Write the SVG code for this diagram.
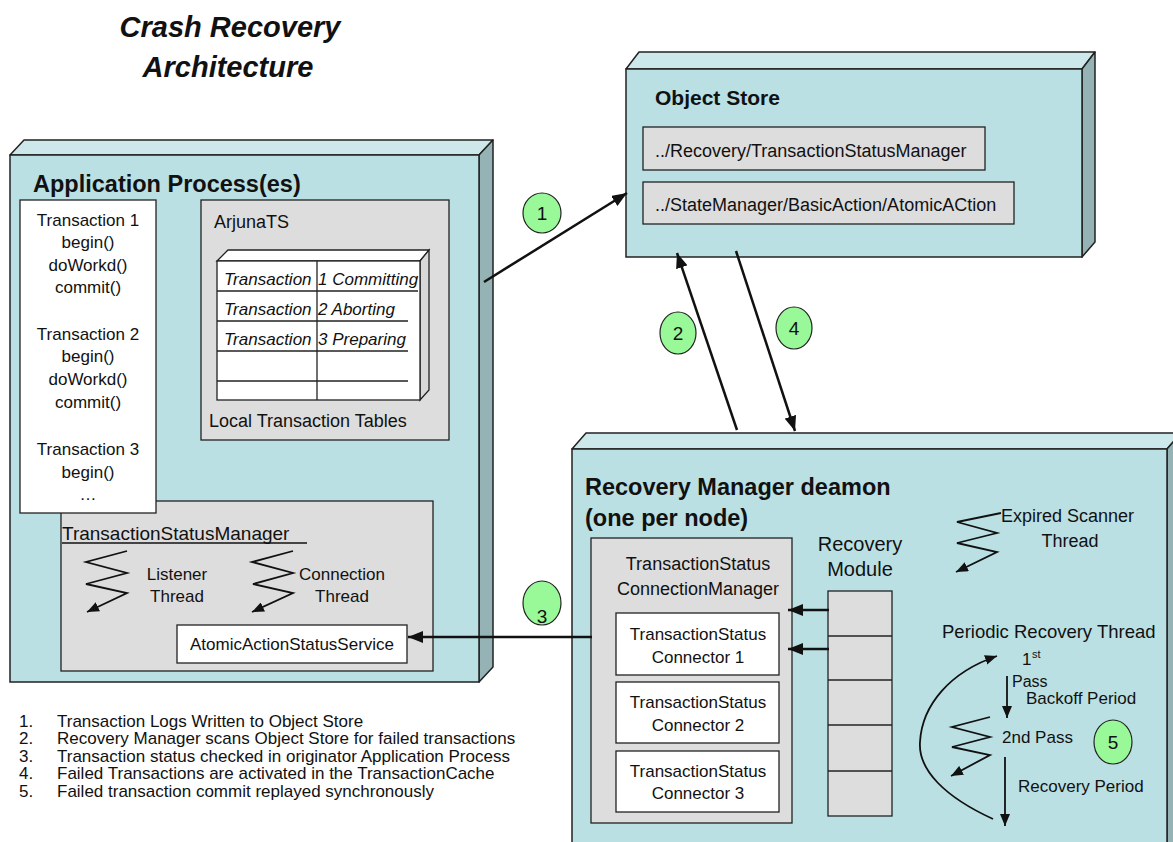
<svg xmlns="http://www.w3.org/2000/svg" width="1173" height="842" viewBox="0 0 1173 842">
<defs>
<style>
text { font-family: "Liberation Sans", Arial, sans-serif; fill:#111; }
.front { fill:#bae0e3; stroke:#222; stroke-width:1.5; }
.top { fill:#cde8ea; stroke:#222; stroke-width:1.5; stroke-linejoin:round; }
.side { fill:#95b3b5; stroke:#222; stroke-width:1.5; stroke-linejoin:round; }
.gray { fill:#dddddd; stroke:#222; stroke-width:1.3; }
.white { fill:#ffffff; stroke:#222; stroke-width:1.3; }
.ln { stroke:#222; stroke-width:1.3; fill:none; }
.h { font-weight:bold; font-size:23.5px; }
.t17 { font-size:17px; }
.t18 { font-size:18px; }
.it { font-style:italic; font-size:17px; }
.c { text-anchor:middle; }
.circ { fill:#99f999; stroke:#222; stroke-width:1.2; }
.num { font-size:19px; text-anchor:middle; }
.conn { stroke:#111; stroke-width:2.5; fill:none; marker-end:url(#ah); }
.zz { stroke:#111; stroke-width:1.8; fill:none; stroke-linejoin:miter; marker-end:url(#ahs); }
</style>
<marker id="ah" markerUnits="userSpaceOnUse" markerWidth="16" markerHeight="12" refX="15" refY="6" orient="auto"><path d="M0,0 L15,6 L0,12 z" fill="#111"/></marker>
<marker id="ahs" markerUnits="userSpaceOnUse" markerWidth="13" markerHeight="10" refX="12" refY="5" orient="auto"><path d="M0,0 L12,5 L0,10 z" fill="#111"/></marker>
</defs>

<g id="title">
<text x="230" y="37" class="c" font-size="29" font-weight="bold" font-style="italic">Crash Recovery</text>
<text x="228" y="77" class="c" font-size="29" font-weight="bold" font-style="italic">Architecture</text>
</g>

<g id="application-process">
<polygon class="top" points="10,155 24,140 493,140 479,155"/>
<polygon class="side" points="479,155 493,140 493,667 479,682"/>
<rect class="front" x="10" y="155" width="469" height="527"/>
<text x="33" y="192" class="h">Application Process(es)</text>
</g>

<g id="arjunats">
<rect class="gray" x="201" y="200" width="248" height="240"/>
<text class="t18" x="214" y="228">ArjunaTS</text>
<polygon points="217,261 228,250 429,250 420,261" fill="#ffffff" stroke="#222" stroke-width="1.3"/>
<polygon points="420,261 429,250 429,390 420,400" fill="#d8d8d8" stroke="#222" stroke-width="1.3"/>
<rect class="white" x="217" y="261" width="203" height="139"/>
<line class="ln" x1="217" y1="291" x2="418" y2="291"/>
<line class="ln" x1="217" y1="321" x2="408" y2="321"/>
<line class="ln" x1="217" y1="351" x2="408" y2="351"/>
<line class="ln" x1="217" y1="381" x2="408" y2="381"/>
<line class="ln" x1="317" y1="261" x2="317" y2="400"/>
<text class="it" x="224" y="285">Transaction</text>
<text class="it" x="318" y="285">1 Committing</text>
<text class="it" x="224" y="315">Transaction</text>
<text class="it" x="318" y="315">2 Aborting</text>
<text class="it" x="224" y="345">Transaction</text>
<text class="it" x="318" y="345">3 Preparing</text>
<text class="t18" x="209" y="427">Local Transaction Tables</text>
</g>

<g id="transaction-status-manager">
<rect class="gray" x="61" y="501" width="372" height="170"/>
<text x="62" y="540" font-size="19">TransactionStatusManager</text>
<line x1="62" y1="543" x2="307" y2="543" stroke="#111" stroke-width="1.3"/>
<polyline class="zz" points="127,551 86,562 127,573 86,584 127,593 87,612"/>
<text class="t17 c" x="177" y="580">Listener</text>
<text class="t17 c" x="177" y="602">Thread</text>
<polyline class="zz" points="293,551 252,562 293,573 253,584 293,593 252,612"/>
<text class="t17 c" x="342" y="580">Connection</text>
<text class="t17 c" x="342" y="602">Thread</text>
<rect class="white" x="177" y="625" width="230" height="38"/>
<text class="t17 c" x="292" y="650">AtomicActionStatusService</text>
</g>

<g id="transaction-list">
<rect class="white" x="20" y="200" width="136" height="313"/>
<text class="t17 c" x="88" y="226">Transaction 1</text>
<text class="t17 c" x="88" y="248">begin()</text>
<text class="t17 c" x="88" y="271">doWorkd()</text>
<text class="t17 c" x="88" y="293">commit()</text>
<text class="t17 c" x="88" y="340">Transaction 2</text>
<text class="t17 c" x="88" y="362">begin()</text>
<text class="t17 c" x="88" y="385">doWorkd()</text>
<text class="t17 c" x="88" y="408">commit()</text>
<text class="t17 c" x="88" y="455">Transaction 3</text>
<text class="t17 c" x="88" y="478">begin()</text>
<text class="t17 c" x="88" y="500">…</text>
</g>

<g id="object-store">
<polygon class="top" points="626,69 639,52 1095,52 1082,69"/>
<polygon class="side" points="1082,69 1095,52 1095,242 1082,257"/>
<rect class="front" x="626" y="69" width="456" height="188"/>
<text x="655" y="105" font-weight="bold" font-size="21">Object Store</text>
<rect class="gray" x="643" y="127" width="342" height="43"/>
<text class="t18" x="655" y="157">../Recovery/TransactionStatusManager</text>
<rect class="gray" x="643" y="182" width="371" height="42"/>
<text class="t18" x="655" y="211">../StateManager/BasicAction/AtomicACtion</text>
</g>

<g id="recovery-manager">
<polygon class="top" points="572,449 586,433 1181,433 1167,449"/>
<polygon class="side" points="1167,449 1181,433 1181,850 1167,850"/>
<rect class="front" x="572" y="449" width="595" height="400"/>
<text x="585" y="495" class="h">Recovery Manager deamon</text>
<text x="585" y="526" class="h">(one per node)</text>
</g>

<g id="connection-manager">
<rect class="gray" x="591" y="538" width="201" height="285"/>
<text class="t18 c" x="698" y="570">TransactionStatus</text>
<text class="t18 c" x="698" y="595">ConnectionManager</text>
<rect class="white" x="616" y="613" width="163" height="62"/>
<text class="t17 c" x="698" y="640">TransactionStatus</text>
<text class="t17 c" x="698" y="663">Connector 1</text>
<rect class="white" x="616" y="682" width="163" height="61"/>
<text class="t17 c" x="698" y="708">TransactionStatus</text>
<text class="t17 c" x="698" y="731">Connector 2</text>
<rect class="white" x="616" y="751" width="163" height="61"/>
<text class="t17 c" x="698" y="777">TransactionStatus</text>
<text class="t17 c" x="698" y="799">Connector 3</text>
</g>

<g id="recovery-module">
<text class="c" font-size="20" x="860" y="551">Recovery</text>
<text class="c" font-size="20" x="860" y="576">Module</text>
<rect class="gray" x="828" y="591" width="64" height="225"/>
<line class="ln" x1="828" y1="636" x2="892" y2="636"/>
<line class="ln" x1="828" y1="680" x2="892" y2="680"/>
<line class="ln" x1="828" y1="725" x2="892" y2="725"/>
<line class="ln" x1="828" y1="771" x2="892" y2="771"/>
</g>

<g id="expired-scanner">
<polyline class="zz" points="1001,513 957,522 997,533 957,543 997,552 956,572"/>
<text class="t18" x="1001" y="522">Expired Scanner</text>
<text class="t18 c" x="1070" y="547">Thread</text>
</g>

<g id="periodic-recovery">
<text x="942" y="638" font-size="18.5">Periodic Recovery Thread</text>
<text class="t17" x="1022" y="665">1</text>
<text font-size="11" x="1032" y="658">st</text>
<text font-size="16" x="1012" y="687">Pass</text>
<text class="t17" x="1026" y="704">Backoff Period</text>
<line class="zz" x1="1007" y1="676" x2="1007" y2="718"/>
<polyline class="zz" points="990,717 952,727 990,737 952,747 990,755 951,776"/>
<text class="t17" x="1002" y="743">2nd Pass</text>
<line class="zz" x1="1005" y1="757" x2="1005" y2="826"/>
<text class="t17" x="1018" y="792">Recovery Period</text>
<path class="zz" d="M993,819 C945,797 918,770 920,742 C922,705 950,672 997,656"/>
</g>

<g id="connectors">
<line class="conn" x1="484" y1="282" x2="627" y2="193"/>
<line class="conn" x1="737" y1="430" x2="677" y2="253"/>
<line class="conn" x1="736" y1="251" x2="795" y2="431"/>
<line class="conn" x1="592" y1="637" x2="408" y2="637"/>
<line class="conn" x1="829" y1="610" x2="788" y2="610"/>
<line class="conn" x1="829" y1="649" x2="788" y2="649"/>
</g>

<g id="step-markers">
<ellipse class="circ" cx="542" cy="213" rx="19" ry="20"/>
<text class="num" x="542" y="220">1</text>
<ellipse class="circ" cx="678" cy="333" rx="18" ry="21"/>
<text class="num" x="678" y="340">2</text>
<ellipse class="circ" cx="542" cy="603" rx="19" ry="22"/>
<text class="num" x="542" y="623">3</text>
<ellipse class="circ" cx="794" cy="328" rx="18" ry="21"/>
<text class="num" x="794" y="335">4</text>
<ellipse class="circ" cx="1113" cy="742" rx="19" ry="22"/>
<text class="num" x="1113" y="749">5</text>
</g>

<g id="legend">
<text class="t17" x="19" y="727">1.</text>
<text class="t17" x="57" y="727">Transaction Logs Written to Object Store</text>
<text class="t17" x="19" y="744">2.</text>
<text class="t17" x="57" y="744">Recovery Manager scans Object Store for failed transactions</text>
<text class="t17" x="19" y="762">3.</text>
<text class="t17" x="57" y="762">Transaction status checked in originator Application Process</text>
<text class="t17" x="19" y="779">4.</text>
<text class="t17" x="57" y="779">Failed Transactions are activated in the TransactionCache</text>
<text class="t17" x="19" y="797">5.</text>
<text class="t17" x="57" y="797">Failed transaction commit replayed synchronously</text>
</g>
</svg>
